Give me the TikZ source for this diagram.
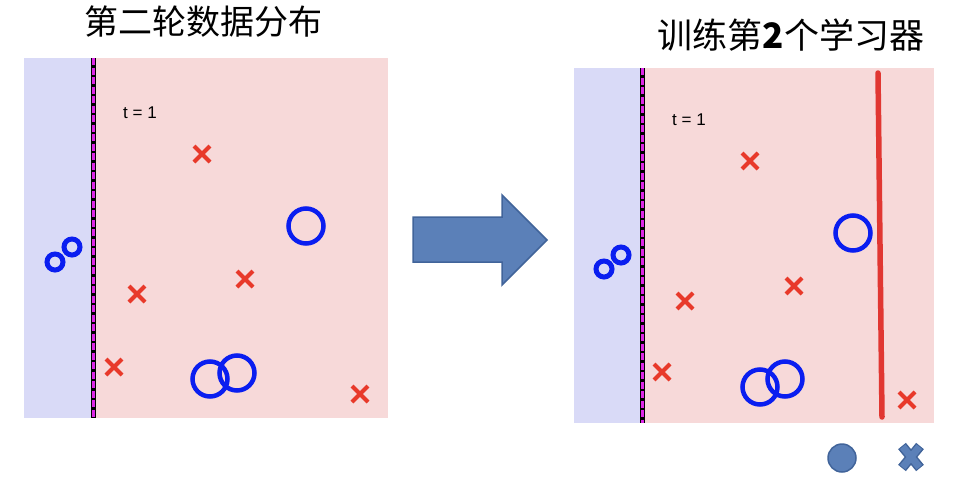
\documentclass[tikz,border=0pt]{standalone}
\usepackage{fontspec}
\setmainfont{Liberation Sans}
\newfontfamily\cjk{Noto Sans CJK SC}
\usetikzlibrary{calc}
\definecolor{bluebg}{RGB}{217,218,247}
\definecolor{pinkbg}{RGB}{247,217,217}
\definecolor{ocol}{RGB}{10,30,240}
\definecolor{xcol}{RGB}{232,57,42}
\definecolor{magcol}{RGB}{220,40,230}
\definecolor{hcol}{RGB}{225,55,50}
\definecolor{arrfill}{RGB}{91,128,184}
\definecolor{arrdraw}{RGB}{65,100,154}
\begin{document}
\begin{tikzpicture}[x=1pt,y=-1pt,
  bluereg/.style={fill=bluebg},
  pinkreg/.style={fill=pinkbg},
  ocirc/.style={draw=ocol,line width=4.5pt,circle,minimum size=#1,inner sep=0pt},
  socirc/.style={draw=ocol,line width=5pt,circle,minimum size=16pt,inner sep=0pt},
  xmark/.style={draw=none,inner sep=0pt,minimum size=24pt,path picture={
     \draw[xcol,line width=4pt]
       ([xshift=-8pt,yshift=8pt]path picture bounding box.center) -- ([xshift=8pt,yshift=-8pt]path picture bounding box.center)
       ([xshift=-8pt,yshift=-8pt]path picture bounding box.center) -- ([xshift=8pt,yshift=8pt]path picture bounding box.center);}},
  tlabel/.style={font=\fontsize{17}{17}\selectfont},
  titletext/.style={font=\cjk\fontsize{#1}{#1}\selectfont},
  sepline/.style={line width=5pt,black},
  sepmag/.style={line width=3pt,draw=magcol,dash pattern=on 7pt off 2.5pt},
]
\useasboundingbox (0,0) rectangle (975,485);
% left panel
\fill[bluereg] (24,58) rectangle (93,418);
\fill[pinkreg] (93,58) rectangle (388,418);
\coordinate (l1) at (93,58); \coordinate (l2) at (93,418);
\draw[sepline] (l1) -- (l2);
\draw[sepmag] (l1) -- (l2);
\node[tlabel] (lt) at (140,113) {t = 1};
\node[socirc] (lc1) at (55,262) {};
\node[socirc] (lc2) at (72,247) {};
\node[ocirc=35pt] (lc3) at (306,226) {};
\node[ocirc=35pt] (lc4) at (210,379) {};
\node[ocirc=35pt] (lc5) at (237,373) {};
\node[xmark] (lx1) at (202,154) {};
\node[xmark] (lx2) at (137,294) {};
\node[xmark] (lx3) at (245,279) {};
\node[xmark] (lx4) at (114,367) {};
\node[xmark] (lx5) at (360,394) {};
\node[titletext=34] (ltitle) at (203,22) {第二轮数据分布};
% arrow
\draw[fill=arrfill,draw=arrdraw,line width=1.5pt,line join=miter]
  (413,217) -- (502,217) -- (502,195) -- (547,240) -- (502,285) -- (502,262) -- (413,262) -- cycle;
% right panel
\fill[bluereg] (574,68) rectangle (642,423);
\fill[pinkreg] (642,68) rectangle (934,423);
\coordinate (r1) at (642,68); \coordinate (r2) at (642,423);
\draw[sepline] (r1) -- (r2);
\draw[sepmag] (r1) -- (r2);
\node[tlabel] (rt) at (689,120) {t = 1};
\node[socirc] (rc1) at (604,269) {};
\node[socirc] (rc2) at (621,255) {};
\node[ocirc=35pt] (rc3) at (853,233) {};
\node[ocirc=35pt] (rc4) at (760,387) {};
\node[ocirc=35pt] (rc5) at (785,379) {};
\node[xmark] (rx1) at (750,161) {};
\node[xmark] (rx2) at (685,301) {};
\node[xmark] (rx3) at (794,286) {};
\node[xmark] (rx4) at (662,372) {};
\node[xmark] (rx5) at (907,400) {};
\coordinate (h1) at (878,73); \coordinate (h2) at (882,417);
\draw[line width=5.5pt,line cap=round,hcol] (h1) -- (h2);
\node[titletext=35] (rtitle) at (791,35) {训练第\textbf{2}个学习器};
% legend
\node[circle,minimum size=28pt,inner sep=0pt,fill=arrfill,draw=arrdraw,line width=1.5pt] (legc) at (842,458) {};
\coordinate (xc) at (911,457);
\draw[line width=10pt,arrdraw] ($(xc)+(-9,-11)$) -- ($(xc)+(9,11)$) ($(xc)+(-9,11)$) -- ($(xc)+(9,-11)$);
\draw[line width=7pt,arrfill] ($(xc)+(-8.3,-10.2)$) -- ($(xc)+(8.3,10.2)$) ($(xc)+(-8.3,10.2)$) -- ($(xc)+(8.3,-10.2)$);
\end{tikzpicture}
\end{document}
